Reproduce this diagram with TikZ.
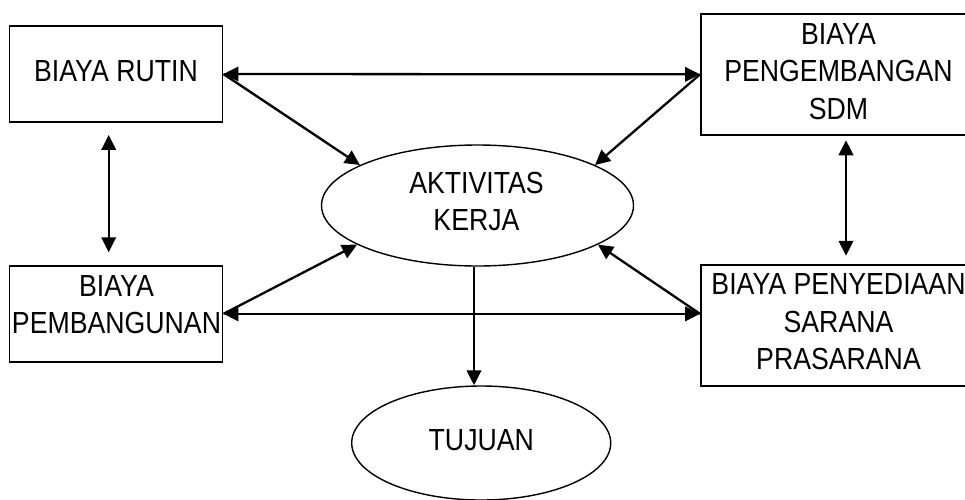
\documentclass[tikz,border=0pt]{standalone}
\usepackage{fontspec}
\setmainfont[FakeStretch=0.875]{Liberation Sans}
\usetikzlibrary{arrows.meta,shapes.geometric}
\begin{document}
\begin{tikzpicture}[x=1pt,y=-1pt,
  box/.style={draw,line width=1.9pt,rectangle,inner sep=0pt},
  oval/.style={draw,line width=1.4pt,ellipse,inner sep=0pt},
  label/.style={align=center,inner sep=0pt,font=\fontsize{30.5}{37.4}\selectfont},
  link/.style={line width=2.3pt,-{Triangle[length=15pt,width=14.5pt]}},
  both/.style={line width=2.3pt,{Triangle[length=15pt,width=14.5pt]}-{Triangle[length=15pt,width=14.5pt]}}]
\useasboundingbox (0,0) rectangle (965,499);
\clip (0,0) rectangle (965,499);

% cost boxes
\node[box,minimum width=213pt,minimum height=96pt] (rutin) at (116,74) {};
\node[box,minimum width=275pt,minimum height=120.7pt] (sdm) at (838.5,74.35) {};
\node[box,minimum width=213pt,minimum height=96.3pt] (pemb) at (116,313.85) {};
\node[box,minimum width=275pt,minimum height=120.7pt] (sarana) at (838.5,325.65) {};

% ovals
\node[oval,minimum width=312pt,minimum height=121pt] (akt) at (477.5,205.5) {};
\node[oval,minimum width=259pt,minimum height=114pt] (tuj) at (481.2,443) {};

% texts
\node[label] (trutin) at (116,71) {BIAYA RUTIN};
\node[label] (tsdm) at (838.5,71.4) {BIAYA\\PENGEMBANGAN\\SDM};
\node[label] (tpemb) at (116.5,304.5) {BIAYA\\PEMBANGUNAN};
\node[label] (tsarana) at (838.5,321.7) {BIAYA PENYEDIAAN\\SARANA\\PRASARANA};
\node[label] (takt) at (476.5,201.2) {AKTIVITAS\\KERJA};
\node[label] (ttuj) at (481.3,440) {TUJUAN};

% guide coordinates for the vertical links
\coordinate (lx) at (108.7,0);
\coordinate (rx) at (846,0);
\coordinate (mx) at (474,0);

% horizontal links
\draw[both] (rutin.east) -- (sdm.west);
\draw[both] (pemb.east) -- (sarana.west |- pemb.east);

% vertical links
\draw[both,shorten <=12pt,shorten >=12.5pt] (rutin.south -| lx) -- (pemb.north -| lx);
\draw[both,shorten <=4.6pt,shorten >=8.6pt] (sdm.south -| rx) -- (sarana.north -| rx);

% links into the activity oval
\draw[link] (rutin.east) -- (akt.161);
\draw[link] (sdm.west) -- (akt.19);
\draw[link] (pemb.east) -- (akt.198);
\draw[link] (sarana.west |- pemb.east) -- (akt.-18);

% towards the goal
\draw[link] (akt.south -| mx) -- (tuj.north -| mx);
\end{tikzpicture}
\end{document}
